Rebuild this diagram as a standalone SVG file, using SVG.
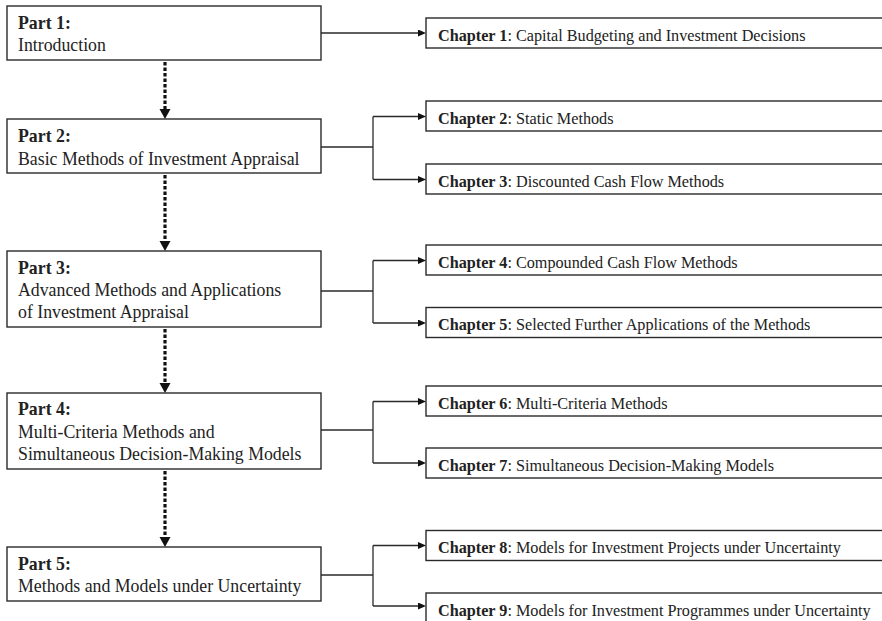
<svg xmlns="http://www.w3.org/2000/svg" width="882" height="621" viewBox="0 0 882 621">
<defs>
<style>
.box{fill:#fff;stroke:#2a2a2a;stroke-width:1.4}
.pt{font-family:"Liberation Serif","Times New Roman",serif;font-size:17.8px;fill:#222}
.ct{font-family:"Liberation Serif","Times New Roman",serif;font-size:16.2px;fill:#222}
.b{font-weight:bold}
.ln{fill:none;stroke:#2a2a2a;stroke-width:1.3}
.dt{fill:none;stroke:#111;stroke-width:3.2;stroke-dasharray:3.5 2}
</style>
<marker id="ah" markerUnits="userSpaceOnUse" markerWidth="8" markerHeight="8" refX="0" refY="3.5" orient="auto">
<path d="M0,0 L8,3.5 L0,7 z" fill="#111"/>
</marker>
<marker id="dh" markerUnits="userSpaceOnUse" markerWidth="11" markerHeight="12" refX="0" refY="5.5" orient="auto">
<path d="M0,0 L10,5.5 L0,11 z" fill="#111"/>
</marker>
</defs>
<rect width="882" height="621" fill="#fff"/>

<g id="connectors">
<path class="ln" d="M321,33 H418" marker-end="url(#ah)"/>
<path class="ln" d="M321,147 H373"/>
<path class="ln" d="M373,116.5 V179.5"/>
<path class="ln" d="M373,116.5 H418" marker-end="url(#ah)"/>
<path class="ln" d="M373,179.5 H418" marker-end="url(#ah)"/>
<path class="ln" d="M321,291 H373"/>
<path class="ln" d="M373,260.5 V323"/>
<path class="ln" d="M373,260.5 H418" marker-end="url(#ah)"/>
<path class="ln" d="M373,323 H418" marker-end="url(#ah)"/>
<path class="ln" d="M321,430 H373"/>
<path class="ln" d="M373,401.5 V463"/>
<path class="ln" d="M373,401.5 H418" marker-end="url(#ah)"/>
<path class="ln" d="M373,463 H418" marker-end="url(#ah)"/>
<path class="ln" d="M321,575 H373"/>
<path class="ln" d="M373,545.5 V606"/>
<path class="ln" d="M373,545.5 H418" marker-end="url(#ah)"/>
<path class="ln" d="M373,606 H418" marker-end="url(#ah)"/>
<path class="dt" d="M165,62 V109" marker-end="url(#dh)"/>
<path class="dt" d="M165,175 V241" marker-end="url(#dh)"/>
<path class="dt" d="M165,329 V383" marker-end="url(#dh)"/>
<path class="dt" d="M165,471 V537" marker-end="url(#dh)"/>
</g>

<g id="part1">
<rect class="box" x="7" y="6" width="314" height="54"/>
<text class="pt b" x="18" y="28.5">Part 1:</text>
<text class="pt" x="18" y="51">Introduction</text>
</g>
<g id="part2">
<rect class="box" x="7" y="119" width="314" height="54"/>
<text class="pt b" x="18" y="141.5">Part 2:</text>
<text class="pt" x="18" y="164.5">Basic Methods of Investment Appraisal</text>
</g>
<g id="part3">
<rect class="box" x="7" y="251" width="314" height="76"/>
<text class="pt b" x="18" y="273.5">Part 3:</text>
<text class="pt" x="18" y="296">Advanced Methods and Applications</text>
<text class="pt" x="18" y="318">of Investment Appraisal</text>
</g>
<g id="part4">
<rect class="box" x="7" y="393" width="314" height="76"/>
<text class="pt b" x="18" y="415">Part 4:</text>
<text class="pt" x="18" y="437.5">Multi-Criteria Methods and</text>
<text class="pt" x="18" y="459.5">Simultaneous Decision-Making Models</text>
</g>
<g id="part5">
<rect class="box" x="7" y="547" width="314" height="54"/>
<text class="pt b" x="18" y="569.5">Part 5:</text>
<text class="pt" x="18" y="592">Methods and Models under Uncertainty</text>
</g>

<g id="ch1">
<rect class="box" x="426" y="18" width="470" height="30"/>
<text class="ct" x="438" y="40.5"><tspan class="b">Chapter 1</tspan>: Capital Budgeting and Investment Decisions</text>
</g>
<g id="ch2">
<rect class="box" x="426" y="101" width="470" height="30"/>
<text class="ct" x="438" y="123.5"><tspan class="b">Chapter 2</tspan>: Static Methods</text>
</g>
<g id="ch3">
<rect class="box" x="426" y="164" width="470" height="30"/>
<text class="ct" x="438" y="186.5"><tspan class="b">Chapter 3</tspan>: Discounted Cash Flow Methods</text>
</g>
<g id="ch4">
<rect class="box" x="426" y="245" width="470" height="30"/>
<text class="ct" x="438" y="267.5"><tspan class="b">Chapter 4</tspan>: Compounded Cash Flow Methods</text>
</g>
<g id="ch5">
<rect class="box" x="426" y="307.5" width="470" height="30"/>
<text class="ct" x="438" y="330"><tspan class="b">Chapter 5</tspan>: Selected Further Applications of the Methods</text>
</g>
<g id="ch6">
<rect class="box" x="426" y="386" width="470" height="30"/>
<text class="ct" x="438" y="408.5"><tspan class="b">Chapter 6</tspan>: Multi-Criteria Methods</text>
</g>
<g id="ch7">
<rect class="box" x="426" y="448" width="470" height="30"/>
<text class="ct" x="438" y="470.5"><tspan class="b">Chapter 7</tspan>: Simultaneous Decision-Making Models</text>
</g>
<g id="ch8">
<rect class="box" x="426" y="530.5" width="470" height="30"/>
<text class="ct" x="438" y="553"><tspan class="b">Chapter 8</tspan>: Models for Investment Projects under Uncertainty</text>
</g>
<g id="ch9">
<rect class="box" x="426" y="593" width="470" height="40"/>
<text class="ct" x="438" y="615.5"><tspan class="b">Chapter 9</tspan>: Models for Investment Programmes under Uncertainty</text>
</g>
</svg>
